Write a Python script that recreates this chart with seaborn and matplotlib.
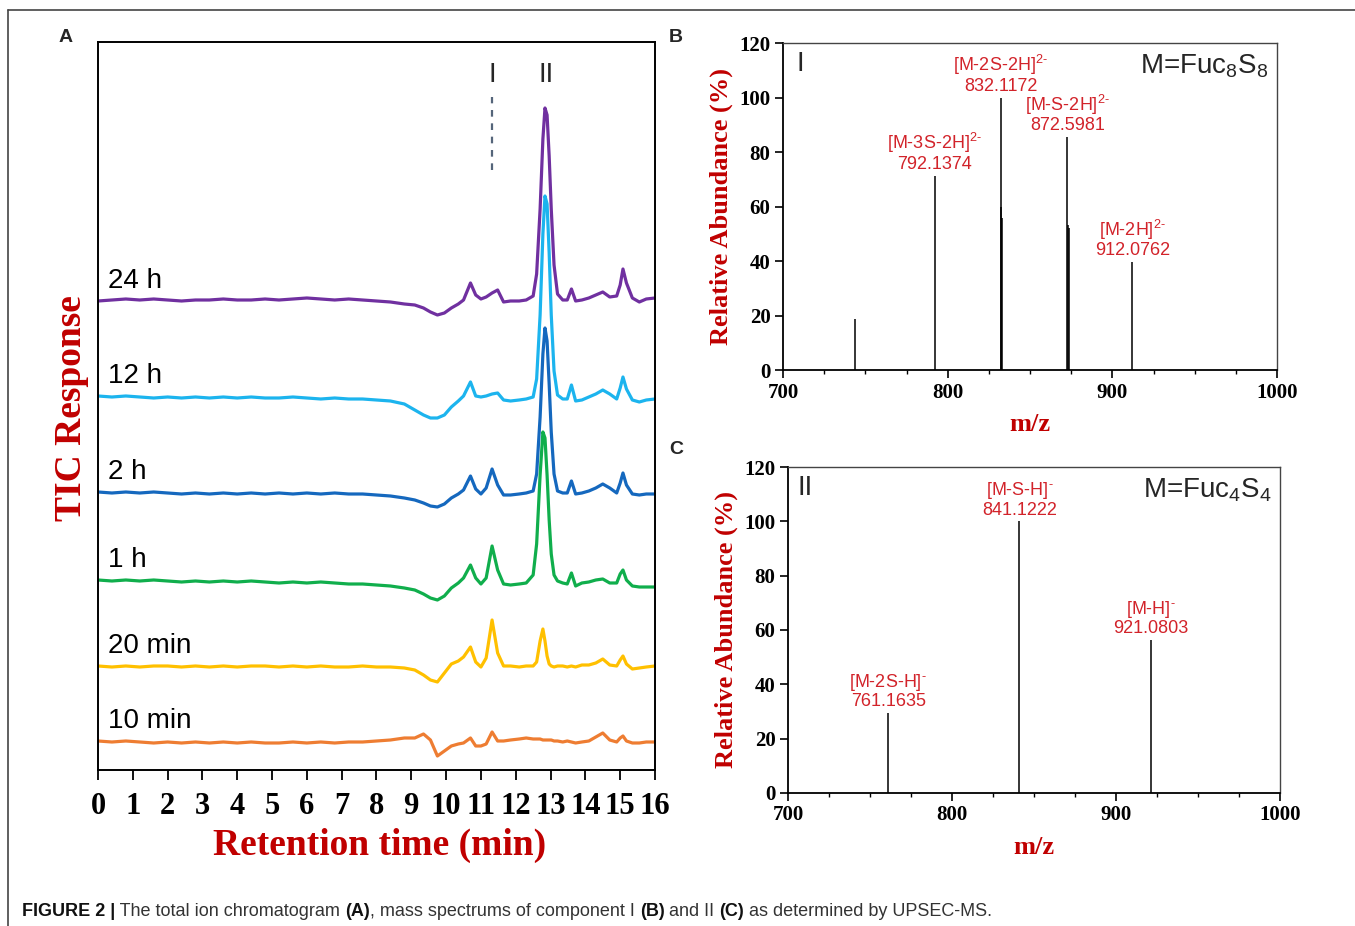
import matplotlib.pyplot as plt
import pandas as pd
import seaborn as sns
from matplotlib.lines import Line2D
from matplotlib.ticker import MultipleLocator

# Chromatogram data (retention time in min, TIC response in arbitrary units)
X_MIN = [0.0, 0.4, 0.8, 1.2, 1.6, 2.0, 2.4, 2.8, 3.2, 3.6, 4.0, 4.4, 4.8, 5.2, 5.6, 6.0, 6.4, 6.8, 7.2, 7.6, 8.0, 8.4, 8.8,
         9.1, 9.35, 9.55, 9.75, 9.95, 10.15, 10.35, 10.5, 10.7, 10.85, 11.0, 11.15, 11.32, 11.48, 11.65, 11.85, 12.1, 12.3,
         12.5, 12.6, 12.7, 12.78, 12.84, 12.9, 12.96, 13.02, 13.1, 13.2, 13.35,
         13.48, 13.6, 13.72, 13.9, 14.1, 14.3, 14.5, 14.7, 14.9, 15.0, 15.08, 15.18, 15.35, 15.55, 15.75, 16.0]

TIC_24H = [469, 470, 471, 470, 471, 470, 469, 470, 470, 471, 470, 470, 471, 470, 471, 472, 471, 470, 471, 470, 469, 468, 466,
           465, 462, 458, 455, 457, 462, 466, 470, 487, 475, 471, 473, 477, 480, 468, 469, 469, 470,
           474, 496, 561, 631, 662, 655, 614, 561, 505, 476, 470,
           470, 481, 469, 470, 472, 475, 478, 473, 474, 485, 501, 487, 472, 468, 471, 472]
TIC_12H = [374, 373, 374, 373, 372, 373, 372, 373, 372, 373, 372, 373, 372, 372, 373, 372, 371, 372, 371, 371, 370, 369, 366,
           360, 355, 352, 352, 355, 363, 369, 374, 388, 374, 373, 374, 376, 377, 370, 369, 370, 371,
           373, 391, 455, 536, 574, 566, 517, 455, 399, 375, 371,
           371, 385, 369, 370, 373, 376, 380, 376, 371, 382, 393, 381, 370, 368, 370, 371]
TIC_2H = [278, 277, 278, 277, 278, 277, 276, 277, 276, 277, 276, 277, 276, 277, 276, 277, 276, 277, 276, 276, 275, 274, 272,
          270, 267, 264, 263, 266, 272, 276, 280, 294, 281, 276, 282, 301, 285, 275, 275, 276, 277,
          279, 296, 353, 416, 442, 429, 386, 338, 296, 279, 277,
          277, 289, 276, 277, 279, 282, 286, 282, 277, 287, 297, 285, 276, 275, 276, 276]
TIC_1H = [190, 189, 190, 189, 190, 189, 188, 189, 188, 189, 188, 189, 188, 187, 188, 187, 188, 187, 186, 186, 185, 184, 182,
          180, 176, 172, 170, 174, 182, 187, 192, 205, 192, 186, 192, 224, 200, 186, 185, 186, 187,
          195, 226, 295, 338, 332, 295, 250, 216, 195, 189, 187,
          186, 197, 184, 187, 188, 190, 191, 187, 187, 196, 200, 190, 184, 183, 183, 183]
TIC_20MIN = [104, 103, 104, 103, 104, 104, 103, 104, 103, 104, 103, 104, 104, 103, 104, 103, 104, 103, 103, 104, 103, 103, 102,
             100, 95, 90, 88, 97, 106, 109, 113, 123, 108, 103, 112, 150, 117, 104, 104, 103, 104,
             104, 108, 129, 141, 129, 114, 106, 104, 103, 104, 104,
             103, 104, 103, 105, 105, 107, 111, 105, 104, 110, 114, 106, 101, 102, 103, 104]
TIC_10MIN = [29, 28, 29, 28, 27, 28, 27, 28, 27, 28, 27, 28, 27, 27, 28, 27, 28, 27, 28, 28, 29, 30, 32,
             32, 36, 30, 14, 19, 24, 26, 27, 32, 24, 24, 26, 38, 29, 29, 30, 31, 32,
             31, 31, 31, 30, 30, 30, 30, 30, 29, 29, 28,
             29, 28, 27, 28, 29, 33, 37, 30, 28, 32, 34, 29, 27, 27, 28, 28]

SAMPLES = ["24 h", "12 h", "2 h", "1 h", "20 min", "10 min"]
TRACES = [TIC_24H, TIC_12H, TIC_2H, TIC_1H, TIC_20MIN, TIC_10MIN]
COLORS = ["#7030A0", "#1CB4EE", "#1568BE", "#10AE4C", "#FFC000", "#EE7D32"]
X_TICKS = list(range(17))

# Mass spectrum of component I
B_MZ = [743.6, 792.1374, 832.1172, 832.62, 833.12, 872.5981, 873.10, 873.60, 912.0762]
B_AB = [18.7, 71.3, 100.0, 59.9, 55.8, 85.5, 53.2, 52.0, 39.6]
B_ION_MZ = [792.1374, 832.1172, 872.5981, 912.0762]
B_ION_AB = [71.3, 100.0, 85.5, 39.6]
B_IONS = [r"[M-3S-2H]$^{2\text{-}}$", r"[M-2S-2H]$^{2\text{-}}$", r"[M-S-2H]$^{2\text{-}}$", r"[M-2H]$^{2\text{-}}$"]

# Mass spectrum of component II
C_MZ = [761.1635, 841.1222, 921.0803]
C_AB = [29.4, 100.0, 56.3]
C_IONS = [r"[M-2S-H]$^{\text{-}}$", r"[M-S-H]$^{\text{-}}$", r"[M-H]$^{\text{-}}$"]

sns.set_theme(style="white")
plt.rcParams['font.family'] = ['Liberation Sans', 'DejaVu Sans']
plt.rcParams['mathtext.fontset'] = 'custom'
plt.rcParams['mathtext.rm'] = 'Liberation Sans'
plt.rcParams['mathtext.it'] = 'Liberation Sans:italic'
plt.rcParams['mathtext.bf'] = 'Liberation Sans:bold'

SERIF = 'Liberation Serif'
DARK_RED = '#C00000'
ANN_RED = '#D2232A'

fig = plt.figure(figsize=(13.55, 9.26), dpi=100)

# ---------- panel A: chromatograms ----------
axA = fig.add_axes([0.07232, 0.16847, 0.41107, 0.78618])
df = pd.DataFrame({
    "time": X_MIN * len(SAMPLES),
    "tic": [v for tr in TRACES for v in tr],
    "sample": [s for s in SAMPLES for _ in X_MIN],
})
sns.lineplot(data=df, x="time", y="tic", hue="sample", hue_order=SAMPLES,
             palette=COLORS, estimator=None, sort=False, lw=2.3, legend=False, ax=axA)

for name, tr in zip(SAMPLES, TRACES):
    axA.text(0.29, tr[0] + 20, name, fontsize=20, ha='left', va='center', color='black')

axA.plot([11.32, 11.32], [600, 673], ls=(0, (3, 3)), color='#55657A', lw=1.6)
axA.text(11.32, 695, "I", fontsize=20, ha='center', va='center')
axA.text(12.87, 695, "II", fontsize=20, ha='center', va='center')

axA.set_xlim(0, 16)
axA.set_ylim(0, 728)
axA.set_yticks([])
axA.set_xticks(X_TICKS, labels=[str(t) for t in X_TICKS],
               fontfamily=SERIF, fontweight='bold', fontsize=22)
axA.tick_params(axis='x', direction='out', length=7, width=1.3, pad=9, bottom=True, colors='black')
for sp in axA.spines.values():
    sp.set_color('black')
    sp.set_linewidth(1.4)
axA.set_xlabel("Retention time (min)", fontfamily=SERIF, fontweight='bold', fontsize=27,
               color=DARK_RED, va='center')
axA.xaxis.set_label_coords(0.506, -0.103)
axA.set_ylabel("TIC Response", fontfamily=SERIF, fontweight='bold', fontsize=27,
               color=DARK_RED, va='center')
axA.yaxis.set_label_coords(-0.0467, 0.497)


def spectrum_axes(ax, mz, ab, ion_mz, ion_ab, ions, comp, formula):
    ax.vlines(mz, 0, ab, color='black', lw=1.1)
    for m, a, ion in zip(ion_mz, ion_ab, ions):
        ax.annotate(f"{ion}\n{m:.4f}", xy=(m, a), xytext=(0, 2), textcoords='offset points',
                    ha='center', va='bottom', color=ANN_RED, fontsize=13, linespacing=1.05)
    ax.set_xlim(700, 1000)
    ax.set_ylim(0, 120)
    ax.set_xticks([700, 800, 900, 1000])
    ax.set_yticks(range(0, 121, 20))
    ax.xaxis.set_minor_locator(MultipleLocator(25))
    ax.tick_params(axis='both', which='major', direction='out', length=6, width=1.2,
                   colors='black', bottom=True, left=True, pad=3)
    ax.tick_params(axis='x', which='minor', direction='out', length=3, width=1.0,
                   colors='black', bottom=True)
    for lab in ax.get_xticklabels() + ax.get_yticklabels():
        lab.set_fontfamily(SERIF)
        lab.set_fontweight('bold')
        lab.set_fontsize(15)
    for side in ['left', 'bottom']:
        ax.spines[side].set_color('black')
        ax.spines[side].set_linewidth(1.3)
    for side in ['top', 'right']:
        ax.spines[side].set_color('#444444')
        ax.spines[side].set_linewidth(1.0)
    ax.set_ylabel("Relative Abundance (%)", fontfamily=SERIF, fontweight='bold', fontsize=19,
                  color=DARK_RED, va='center')
    ax.yaxis.set_label_coords(-0.125, 0.5)
    ax.set_xlabel("m/z", fontfamily=SERIF, fontweight='bold', fontsize=19,
                  color=DARK_RED, va='center')
    ax.xaxis.set_label_coords(0.5, -0.168)
    ax.text(0.035, 0.935, comp, transform=ax.transAxes, fontsize=20, ha='center', va='center')
    ax.text(0.982, 0.93, formula, transform=ax.transAxes, fontsize=20, ha='right', va='center')


axB = fig.add_axes([0.57786, 0.60043, 0.36458, 0.35313])
spectrum_axes(axB, B_MZ, B_AB, B_ION_MZ, B_ION_AB, B_IONS, "I", r"M=Fuc$_8$S$_8$")

axC = fig.add_axes([0.58155, 0.14363, 0.36310, 0.35205])
spectrum_axes(axC, C_MZ, C_AB, C_MZ, C_AB, C_IONS, "II", r"M=Fuc$_4$S$_4$")

# panel letters
W, H = 1355, 926
for letter, px, py in [("A", 66, 38), ("B", 676, 37), ("C", 676, 450)]:
    fig.text(px / W, 1 - py / H, letter, fontsize=14, fontweight='bold', ha='center', va='center')

# frame lines
fig.add_artist(Line2D([8 / W, 1], [1 - 10 / H, 1 - 10 / H], transform=fig.transFigure, color='#444444', lw=1.2))
fig.add_artist(Line2D([8 / W, 8 / W], [0, 1 - 10 / H], transform=fig.transFigure, color='#444444', lw=1.2))

# caption with mixed weights
pieces = [("FIGURE 2 |", 'bold', '#111111'), (" The total ion chromatogram ", 'normal', '#333333'),
          ("(A)", 'bold', '#111111'), (", mass spectrums of component I ", 'normal', '#333333'),
          ("(B)", 'bold', '#111111'), (" and II ", 'normal', '#333333'),
          ("(C)", 'bold', '#111111'), (" as determined by UPSEC-MS.", 'normal', '#333333')]
renderer = fig.canvas.get_renderer()
xpos = 22 / W
for s, w, c in pieces:
    t = fig.text(xpos, 1 - 912 / H, s, fontsize=13, fontweight=w, color=c, ha='left', va='center')
    xpos += t.get_window_extent(renderer).width / fig.bbox.width

fig.savefig('out.png', dpi=100)
